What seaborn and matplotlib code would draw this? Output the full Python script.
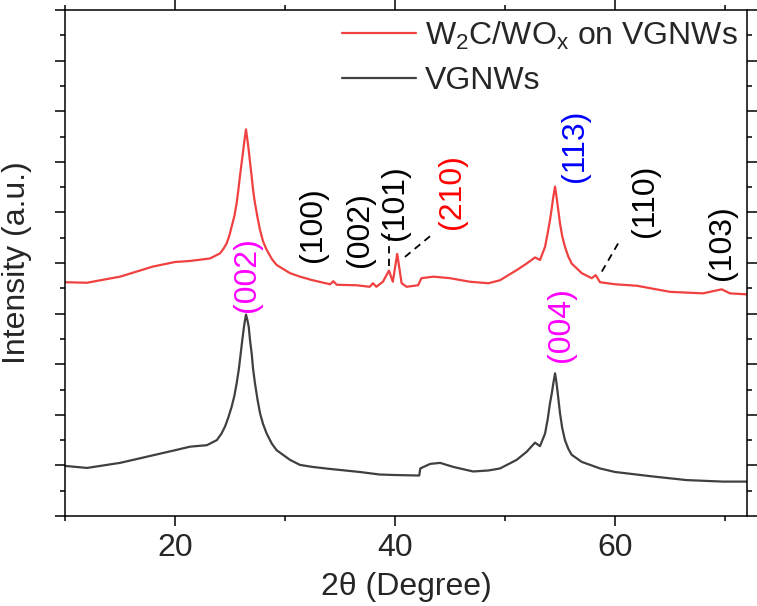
import numpy as np
import pandas as pd
import matplotlib
matplotlib.use('Agg')
import matplotlib.pyplot as plt
import seaborn as sns

# pontos (2theta, intensidade em unidades do eixo 0-10)
x_vg = [10, 12, 15, 18, 20, 21.36, 22.9, 23.8, 24.2, 24.55, 24.85, 25.15, 25.4, 25.6, 25.8,
        25.97, 26.1, 26.27, 26.37, 26.45, 26.57, 26.7, 26.83, 26.97, 27.1, 27.27, 27.5,
        27.73, 28.0, 28.33, 28.8, 29.24, 30.45, 31.36, 32.5, 34.1, 36.8, 38.6,
        40.0, 42.2, 42.3, 43.2, 44.1, 45.3, 47.1, 48.5, 49.55, 51.06, 51.97, 52.73, 53.18,
        53.64, 53.87, 54.09, 54.25, 54.39, 54.55, 54.65, 54.76, 54.88, 55.0, 55.2, 55.45,
        55.75, 56.06, 56.97, 58.64, 60.0, 63.5, 66.5, 69.8, 72.0]
y_vg = [0.99, 0.95, 1.05, 1.2, 1.3, 1.37, 1.4, 1.5, 1.62, 1.77, 1.95, 2.16, 2.38, 2.62, 2.9,
        3.21, 3.45, 3.74, 3.88, 3.98, 3.88, 3.74, 3.45, 3.21, 2.9, 2.62, 2.3,
        2.03, 1.82, 1.63, 1.43, 1.3, 1.11, 1.01, 0.97, 0.93, 0.87, 0.82,
        0.81, 0.8, 0.94, 1.03, 1.05, 0.97, 0.88, 0.9, 0.94, 1.11, 1.27, 1.45, 1.38,
        1.63, 1.9, 2.23, 2.42, 2.62, 2.82, 2.68, 2.49, 2.26, 2.03, 1.74, 1.5,
        1.33, 1.21, 1.07, 0.94, 0.87, 0.78, 0.71, 0.68, 0.68]

x_w2c = [10, 12, 15, 18, 20, 21.36, 23.18, 24.09, 24.4, 24.7, 24.95, 25.15, 25.4, 25.6,
         25.75, 25.9, 26.05, 26.2, 26.33, 26.45, 26.57, 26.7, 26.83, 26.97, 27.1, 27.27,
         27.5, 27.73, 28.0, 28.33, 28.8, 29.24, 30.45, 31.36, 32.5, 34.1, 34.4, 34.7,
         36.5, 37.7, 38.0, 38.3, 38.9, 39.45, 39.8, 40.2, 40.6, 41.05, 42.1, 42.4, 43.5,
         45.0, 46.8, 48.5, 49.55, 51.06, 51.97, 52.73, 53.18, 53.64, 53.87, 54.09, 54.25,
         54.39, 54.55, 54.65, 54.76, 54.88, 55.0, 55.2, 55.45, 55.75, 56.06, 56.97, 57.88,
         58.24, 58.64, 60.0, 62.0, 65.0, 68.0, 69.7, 70.45, 72.0]
y_w2c = [4.62, 4.61, 4.73, 4.93, 5.02, 5.04, 5.09, 5.19, 5.28, 5.39, 5.55, 5.72, 5.93, 6.18,
         6.43, 6.71, 6.97, 7.23, 7.45, 7.64, 7.45, 7.23, 6.97, 6.71, 6.43, 6.18,
         5.9, 5.65, 5.43, 5.26, 5.08, 4.96, 4.8, 4.73, 4.66, 4.58, 4.64, 4.57,
         4.56, 4.53, 4.6, 4.53, 4.63, 4.85, 4.63, 5.18, 4.6, 4.53, 4.56, 4.7, 4.73,
         4.7, 4.63, 4.6, 4.66, 4.86, 4.99, 5.11, 5.06, 5.32, 5.58, 5.85, 6.08,
         6.31, 6.51, 6.36, 6.18, 5.98, 5.78, 5.53, 5.32, 5.13, 4.99, 4.8, 4.7,
         4.76, 4.62, 4.58, 4.55, 4.43, 4.4, 4.48, 4.4, 4.38]

# rotulos dos picos: texto, x, y (base do texto), cor
picos_txt = ['(002)', '(100)', '(002)', '(101)', '(210)', '(113)', '(110)', '(103)', '(004)']
picos_x = [26.57, 32.5, 36.8, 40.0, 45.2, 56.4, 62.7, 69.75, 55.06]
picos_y = [4.04, 5.02, 4.92, 5.45, 5.67, 6.61, 5.52, 4.66, 3.05]
picos_cor = ['#ff00ff', 'black', 'black', 'black', '#ff0000', '#0000ff', 'black', 'black', '#ff00ff']

# linhas tracejadas (x0, x1, y0, y1)
tracos = [([39.45, 39.45], [4.95, 5.58]),
          ([40.9, 43.3], [5.12, 5.55]),
          ([58.8, 60.45], [4.83, 5.45])]

sns.set_style('ticks')
plt.rcParams['font.family'] = ['Liberation Sans', 'DejaVu Sans']
plt.rcParams['mathtext.fontset'] = 'custom'
plt.rcParams['mathtext.rm'] = 'Liberation Sans'
plt.rcParams['mathtext.it'] = 'Liberation Sans:italic'

fig = plt.figure(figsize=(7.57, 6.06), dpi=100)
ax = fig.add_axes([0.0859, 0.1485, 0.9009, 0.835])

df_w2c = pd.DataFrame({'x': x_w2c, 'y': y_w2c})
df_vg = pd.DataFrame({'x': x_vg, 'y': y_vg})
sns.lineplot(data=df_w2c, x='x', y='y', ax=ax, color='#f04040', lw=1.6,
             estimator=None, sort=False, label=r'W$_\mathrm{2}$C/WO$_\mathrm{x}$ on VGNWs')
sns.lineplot(data=df_vg, x='x', y='y', ax=ax, color='#404040', lw=1.6,
             estimator=None, sort=False, label='VGNWs')

for txt, px, py, cor in zip(picos_txt, picos_x, picos_y, picos_cor):
    ax.text(px, py, txt, rotation=90, ha='center', va='bottom', color=cor, fontsize=23)

for xs, ys in tracos:
    ax.plot(xs, ys, color='black', lw=1.3, ls=(0, (4, 3)))

ax.set_xlim(10, 72)
ax.set_ylim(0, 10)
ax.set_xticks([20, 40, 60])
ax.set_xticks([10, 30, 50, 70], minor=True)
ax.set_yticks(np.arange(0, 11, 1))
ax.set_yticks(np.arange(0.5, 10, 1), minor=True)
ax.set_yticklabels([])
ax.tick_params(which='both', direction='out', top=True, right=True, width=1.1,
               labelsize=23, color='black', pad=5)
ax.tick_params(which='major', length=7)
ax.tick_params(which='minor', length=3.5)
for s in ax.spines.values():
    s.set_linewidth(1.1)
    s.set_color('black')

ax.set_xlabel('2θ (Degree)', fontsize=23, labelpad=7)
ax.set_ylabel('Intensity (a.u.)', fontsize=23, labelpad=12)

ax.legend(loc='upper right', frameon=False, fontsize=23, handlelength=2.3,
          handletextpad=0.28, labelspacing=0.45, borderaxespad=0.2, borderpad=0.1)

plt.savefig('out.png', dpi=100)
